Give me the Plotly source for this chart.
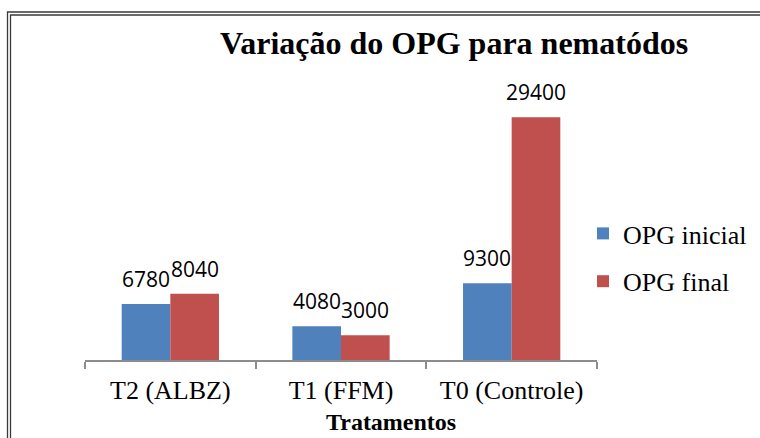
import plotly.graph_objects as go

categories = ["T2 (ALBZ)", "T1 (FFM)", "T0 (Controle)"]
opg_inicial = [6780, 4080, 9300]
opg_final = [8040, 3000, 29400]
series_names = ["OPG inicial", "OPG final"]
series_colors = ["#4F81BD", "#C0504D"]

SERIF = "Liberation Serif, Times New Roman, serif"
W, H = 760, 438
L, R, T, B = 85, 163, 79, 78
PW, PH = W - L - R, H - T - B


def xp(px):
    return (px - L) / PW


def yp(py):
    return (H - B - py) / PH


fig = go.Figure()
for i, (name, vals) in enumerate(zip(series_names, [opg_inicial, opg_final])):
    fig.add_trace(go.Bar(
        x=categories, y=vals, name=name,
        marker=dict(color=series_colors[i], line=dict(width=0)),
        legendgroup=name,
    ))

annotations = []
for vals, shift in [(opg_inicial, -24.3), (opg_final, 24.3)]:
    for c, v in zip(categories, vals):
        annotations.append(dict(
            x=c, y=v, xref="x", yref="y", text=str(v), showarrow=False,
            xanchor="center", yanchor="bottom", xshift=shift, yshift=9,
            font=dict(family="Open Sans", size=21, color="#000000"),
        ))

annotations.append(dict(
    x=xp(453.5), y=yp(43), xref="paper", yref="paper",
    text="<b>Variação do OPG para nematódos</b>", showarrow=False,
    xanchor="center", yanchor="middle",
    font=dict(family=SERIF, size=32, color="#000000"),
))
annotations.append(dict(
    x=xp(391), y=yp(422), xref="paper", yref="paper",
    text="<b>Tratamentos</b>", showarrow=False,
    xanchor="center", yanchor="middle",
    font=dict(family=SERIF, size=24, color="#000000"),
))

shapes = [
    dict(type="rect", xref="paper", yref="paper",
         x0=xp(7.5), x1=xp(790), y0=yp(12), y1=yp(470),
         line=dict(color="#3a3a3a", width=1.3), fillcolor="rgba(0,0,0,0)", layer="above"),
    dict(type="rect", xref="paper", yref="paper",
         x0=xp(10.5), x1=xp(787), y0=yp(15), y1=yp(467),
         line=dict(color="#3a3a3a", width=1.3), fillcolor="rgba(0,0,0,0)", layer="above"),
]

fig.update_layout(
    width=W, height=H,
    margin=dict(l=L, r=R, t=T, b=B, pad=0, autoexpand=False),
    paper_bgcolor="white", plot_bgcolor="white",
    barmode="group", bargap=0.43, bargroupgap=0,
    showlegend=True,
    legend=dict(
        x=xp(583), y=yp(210), xanchor="left", yanchor="top",
        font=dict(family=SERIF, size=26, color="#000000"),
        tracegroupgap=11, traceorder="grouped",
        bgcolor="rgba(0,0,0,0)", borderwidth=0,
    ),
    annotations=annotations,
    shapes=shapes,
    xaxis=dict(
        showline=True, linecolor="#8c8c8c", linewidth=1.5,
        ticks="outside", tickson="boundaries", ticklen=7, tickwidth=1.5,
        tickcolor="#8c8c8c", showgrid=False, zeroline=False,
        tickfont=dict(family=SERIF, size=26, color="#000000"),
        ticklabelstandoff=6, automargin=False,
    ),
    yaxis=dict(visible=False, range=[0, 34040], showgrid=False, zeroline=False),
)

fig.write_html(
    "out.html",
    config={"displayModeBar": False},
    post_script="document.body.style.margin='0';document.body.style.overflow='hidden';",
)
